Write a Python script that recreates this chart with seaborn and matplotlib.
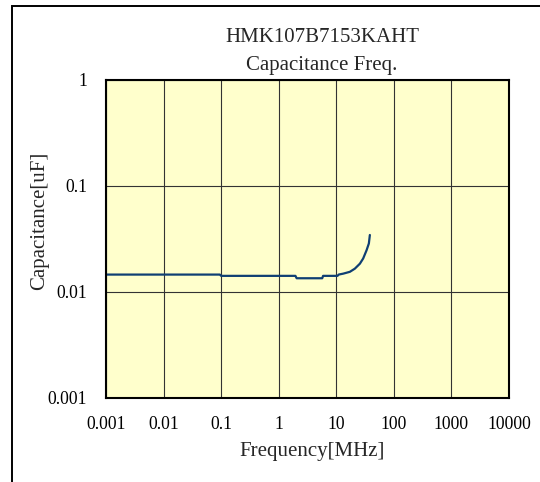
import matplotlib
matplotlib.use("Agg")
import matplotlib.pyplot as plt
import seaborn as sns
import pandas as pd
from matplotlib.patches import Rectangle

# Data (frequency in MHz, capacitance in uF)
freq_mhz = [0.001, 0.095, 0.1, 1.95, 2.05, 5.7, 5.9, 10.5, 11.0,
            13.2, 17.2, 21.0, 25.7, 29.3, 33.6, 36.8, 38.3]
cap_uf = [0.0146, 0.0146, 0.0142, 0.0142, 0.01348, 0.01348, 0.0142, 0.0142, 0.0146,
          0.0149, 0.0155, 0.0166, 0.0185, 0.0207, 0.0248, 0.0287, 0.0345]

x_ticks = [0.001, 0.01, 0.1, 1, 10, 100, 1000, 10000]
x_tick_labels = ['0.001', '0.01', '0.1', '1', '10', '100', '1000', '10000']
y_ticks = [0.001, 0.01, 0.1, 1]
y_tick_labels = ['0.001', '0.01', '0.1', '1']

part_name = 'HMK107B7153KAHT'
chart_name = 'Capacitance Freq.'

df = pd.DataFrame({'freq': freq_mhz, 'cap': cap_uf})

sns.set_style('white')
plt.rcParams['font.family'] = ['Liberation Serif', 'DejaVu Serif']

fig = plt.figure(figsize=(5.4, 4.82), dpi=100)
ax = fig.add_axes([106 / 540, 1 - 398 / 482, 403 / 540, 318 / 482])

# outer frame (runs off the right and bottom edges)
fig.patches.append(Rectangle((12 / 540, -0.1), 1.2, 1.1 - 6 / 482, transform=fig.transFigure,
                             fill=False, edgecolor='black', linewidth=1.4))

sns.lineplot(data=df, x='freq', y='cap', ax=ax, sort=False, estimator=None,
             color='#0f3f73', linewidth=1.6)

ax.set_xscale('log')
ax.set_yscale('log')
ax.set_xlim(0.001, 10000)
ax.set_ylim(0.001, 1)
ax.set_facecolor('#ffffcc')

ax.set_xticks(x_ticks)
ax.set_xticklabels(x_tick_labels)
ax.set_yticks(y_ticks)
ax.set_yticklabels(y_tick_labels)
ax.minorticks_off()
ax.tick_params(axis='both', direction='in', length=4, width=0.8, colors='black', labelsize=12.7)
ax.tick_params(axis='x', pad=13)
ax.tick_params(axis='y', pad=13.5)
ax.grid(True, color='#333333', linewidth=0.8)

for s in ax.spines.values():
    s.set_color('black')
    s.set_linewidth(1.5)

ax.set_xlabel('Frequency[MHz]', fontsize=15)
ax.xaxis.set_label_coords((311.7 - 106) / 403, -0.138)
ax.set_ylabel('Capacitance[uF]', fontsize=15, va='center')
ax.yaxis.set_label_coords((40 - 106) / 403, (398 - 221) / 318)

fig.text(322 / 540, 1 - 42 / 482, part_name, ha='center', va='baseline', fontsize=15)
fig.text(322 / 540, 1 - 70 / 482, chart_name, ha='center', va='baseline', fontsize=15)

fig.savefig('out.png', dpi=100)
